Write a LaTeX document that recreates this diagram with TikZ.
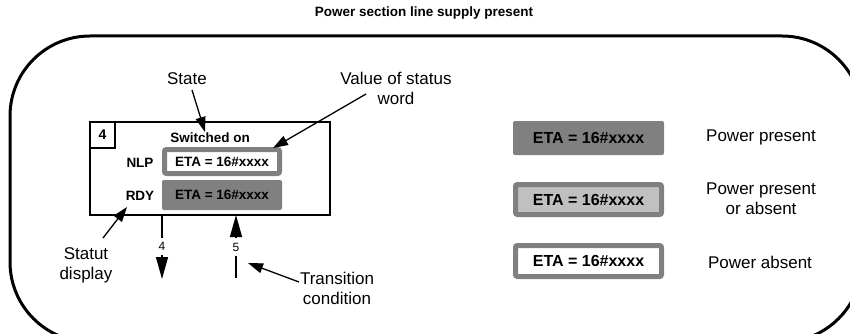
\documentclass[tikz,border=0pt]{standalone}
\usepackage{fontspec}
\setmainfont{Liberation Sans}
\usetikzlibrary{arrows.meta}
\definecolor{midgray}{RGB}{128,128,128}
\definecolor{lightgr}{RGB}{192,192,192}
\newcommand{\fsz}[1]{\fontsize{#1}{#1}\selectfont}
\tikzset{
  lbl/.style={font=\fsz{17}, align=center, inner sep=0pt},
  inbold/.style={font=\fsz{13.5}\bfseries, inner sep=0pt},
  callout/.style={line width=1.3pt, -{Triangle[length=15pt,width=10pt]}},
  trans/.style={line width=1.3pt},
  transtip/.style={line width=1.3pt, -{Triangle[length=22pt,width=12pt]}},
  darkbox/.style={fill=midgray, rounded corners=2pt, inner sep=0pt},
  framebox/.style={draw=midgray, line width=5pt, rounded corners=2pt, inner sep=0pt},
}
\begin{document}
\begin{tikzpicture}[x=1pt,y=-1pt]
\useasboundingbox (0,0) rectangle (850,334);
% title
\node[font=\fsz{13.5}\bfseries, inner sep=0pt] (title) at (424,13) {Power section line supply present};
% big rounded frame (clipped)
\begin{scope}
\clip (0,0) rectangle (850,334);
\draw[line width=3pt, rounded corners=80pt] (10,36) rectangle (862,342);
\end{scope}
% state box
\node[draw, line width=1.2pt, minimum width=240pt, minimum height=93pt, inner sep=0pt] (st) at (210,168.5) {};
\node[draw, line width=1.2pt, minimum width=25pt, minimum height=26pt, inner sep=0pt, font=\fsz{14}\bfseries] (num) at (102.5,135) {4};
\node[inbold] (sw) at (210,138) {Switched on};
\node[framebox, fill=white, minimum width=115pt, minimum height=24pt, font=\fsz{13.5}\bfseries] (nlpbox) at (222,161.5) {ETA = 16\#xxxx};
\node[darkbox, minimum width=120pt, minimum height=30pt, font=\fsz{13.5}\bfseries] (rdybox) at (222,195) {ETA = 16\#xxxx};
\node[inbold] (nlp) at (140,163) {NLP};
\node[inbold] (rdy) at (140,196) {RDY};
% transitions
\coordinate (a4top) at (162,215);
\coordinate (a4mid) at (162,238);
\node[font=\fsz{12}, inner sep=0pt] (t4) at (162,246) {4};
\coordinate (a4s) at (162,255);
\coordinate (a4e) at (162,279);
\draw[trans] (a4top) -- (a4mid);
\draw[transtip] (a4s) -- (a4e);
\coordinate (a5top) at (236,215);
\coordinate (a5s) at (236,237);
\node[font=\fsz{12}, inner sep=0pt] (t5) at (236,247) {5};
\coordinate (a5m) at (236,256);
\coordinate (a5e) at (236,278);
\draw[transtip] (a5s) -- (a5top);
\draw[trans] (a5m) -- (a5e);
% labels and callouts
\node[lbl] (state) at (187,79) {State};
\coordinate (stateS) at (192,90);
\coordinate (stateT) at (205,132);
\draw[callout] (stateS) -- (stateT);
\node[lbl] (value) at (396,88.5) {Value of status\\[3pt]word};
\coordinate (valS) at (366,94);
\coordinate (valT) at (273,148);
\draw[callout] (valS) -- (valT);
\node[lbl] (statut) at (86,265) {Statut\\[3pt]display};
\coordinate (statS) at (103,238);
\coordinate (statT) at (127,207);
\draw[callout] (statS) -- (statT);
\node[lbl] (trns) at (337,288) {Transition\\[3pt]condition};
\coordinate (trS) at (299,282);
\coordinate (trT) at (248,263);
\draw[callout] (trS) -- (trT);
% legend
\node[darkbox, minimum width=151pt, minimum height=34pt, font=\fsz{16}\bfseries] (leg1) at (588.5,138) {ETA = 16\#xxxx};
\node[framebox, fill=lightgr, minimum width=146pt, minimum height=30pt, font=\fsz{16}\bfseries] (leg2) at (588.5,199.5) {ETA = 16\#xxxx};
\node[framebox, fill=white, minimum width=146pt, minimum height=31pt, font=\fsz{16}\bfseries] (leg3) at (588.5,261) {ETA = 16\#xxxx};
\node[lbl] (pp) at (761,137) {Power present};
\node[lbl] (ppa) at (761,198.5) {Power present\\[3pt]or absent};
\node[lbl] (pa) at (760,262) {Power absent};
\end{tikzpicture}
\end{document}
